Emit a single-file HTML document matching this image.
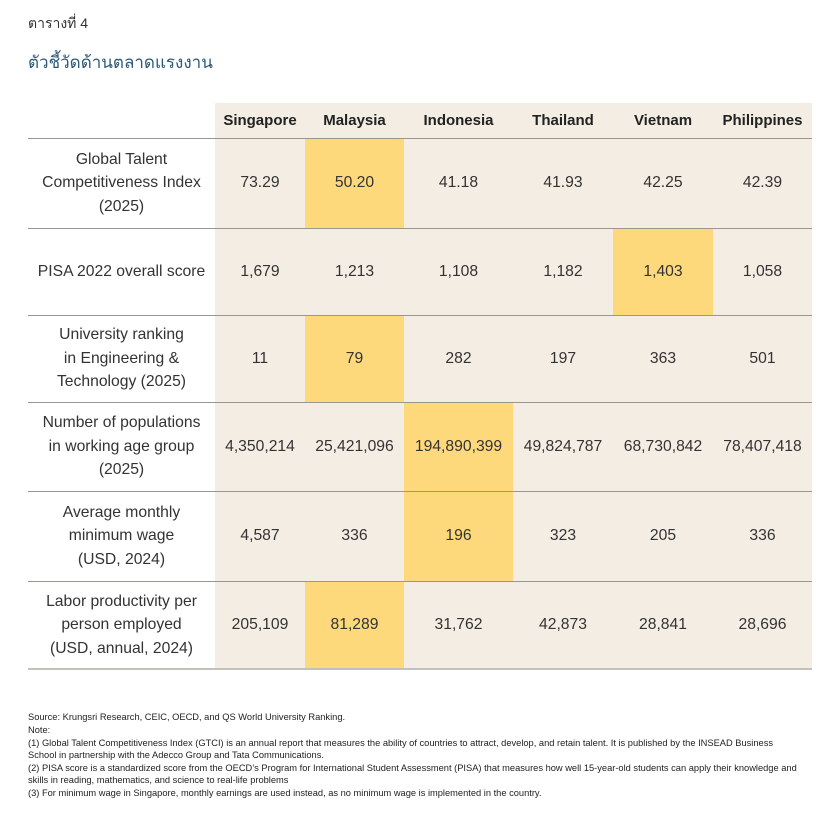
<!DOCTYPE html>
<html><head><meta charset="utf-8"><style>
body{margin:0;width:840px;height:817px;background:#fff;position:relative;overflow:hidden;font-family:"Liberation Sans","Noto Sans CJK SC",sans-serif;color:#333}
.a{position:absolute}
.bg{position:absolute;left:215px;top:103px;width:597px;height:566px;background:#f4ede3}
.hl{position:absolute;background:#fdd97c}
.ln{position:absolute;left:28px;width:784px;height:1px;background:#9a958e}
.c{position:absolute;text-align:center;display:flex;align-items:center;justify-content:center;font-size:15.7px;line-height:23.5px;color:#333}
.h{font-weight:bold;font-size:15px;color:#222}
.n{position:absolute;left:28px;font-size:9.3px;line-height:12px;color:#222;white-space:nowrap}
</style></head><body>
<div class="a" style="left:28px;top:13px;font-size:14px;color:#333">ตารางที่ 4</div>
<div class="a" style="left:28px;top:49px;font-size:17px;color:#2d5878">ตัวชี้วัดด้านตลาดแรงงาน</div>
<div class="bg"></div>
<div class="hl" style="left:305px;top:138px;width:99px;height:90px"></div>
<div class="hl" style="left:613px;top:228px;width:100px;height:87px"></div>
<div class="hl" style="left:305px;top:315px;width:99px;height:87px"></div>
<div class="hl" style="left:404px;top:402px;width:109px;height:89px"></div>
<div class="hl" style="left:404px;top:491px;width:109px;height:90px"></div>
<div class="hl" style="left:305px;top:581px;width:99px;height:88px"></div>
<div class="ln" style="top:138px"></div>
<div class="ln" style="top:228px"></div>
<div class="ln" style="top:315px"></div>
<div class="ln" style="top:402px"></div>
<div class="ln" style="top:491px"></div>
<div class="ln" style="top:581px"></div>
<div class="ln" style="top:668px;height:2px;background:#c4c0ba"></div>
<div id="t"></div>
<script>
var cols=[[28,215],[215,305],[305,404],[404,513],[513,613],[613,713],[713,812]];
var rows=[[103,138],[138,228],[228,315],[315,402],[402,491],[491,581],[581,669]];
var d=[["","Singapore","Malaysia","Indonesia","Thailand","Vietnam","Philippines"],
["Global Talent<br>Competitiveness Index<br>(2025)","73.29","50.20","41.18","41.93","42.25","42.39"],
["PISA 2022 overall score","1,679","1,213","1,108","1,182","1,403","1,058"],
["University ranking<br>in Engineering &amp;<br>Technology (2025)","11","79","282","197","363","501"],
["Number of populations<br>in working age group<br>(2025)","4,350,214","25,421,096","194,890,399","49,824,787","68,730,842","78,407,418"],
["Average monthly<br>minimum wage<br>(USD, 2024)","4,587","336","196","323","205","336"],
["Labor productivity per<br>person employed<br>(USD, annual, 2024)","205,109","81,289","31,762","42,873","28,841","28,696"]];
var h="";
for(var r=0;r<7;r++)for(var c=0;c<7;c++){
h+='<div class="c'+(r==0?' h':'')+'" style="left:'+cols[c][0]+'px;width:'+(cols[c][1]-cols[c][0])+'px;top:'+rows[r][0]+'px;height:'+(rows[r][1]-rows[r][0])+'px">'+d[r][c]+'</div>';}
document.getElementById("t").innerHTML=h;
</script>
<div class="n" style="top:711px">Source: Krungsri Research, CEIC, OECD, and QS World University Ranking.</div>
<div class="n" style="top:724px">Note:</div>
<div class="n" style="top:737px">(1) Global Talent Competitiveness Index (GTCI) is an annual report that measures the ability of countries to attract, develop, and retain talent. It is published by the INSEAD Business</div>
<div class="n" style="top:749px">School in partnership with the Adecco Group and Tata Communications.</div>
<div class="n" style="top:762px">(2) PISA score is a standardized score from the OECD’s Program for International Student Assessment (PISA) that measures how well 15-year-old students can apply their knowledge and</div>
<div class="n" style="top:774px">skills in reading, mathematics, and science to real-life problems</div>
<div class="n" style="top:787px">(3) For minimum wage in Singapore, monthly earnings are used instead, as no minimum wage is implemented in the country.</div>
</body></html>
